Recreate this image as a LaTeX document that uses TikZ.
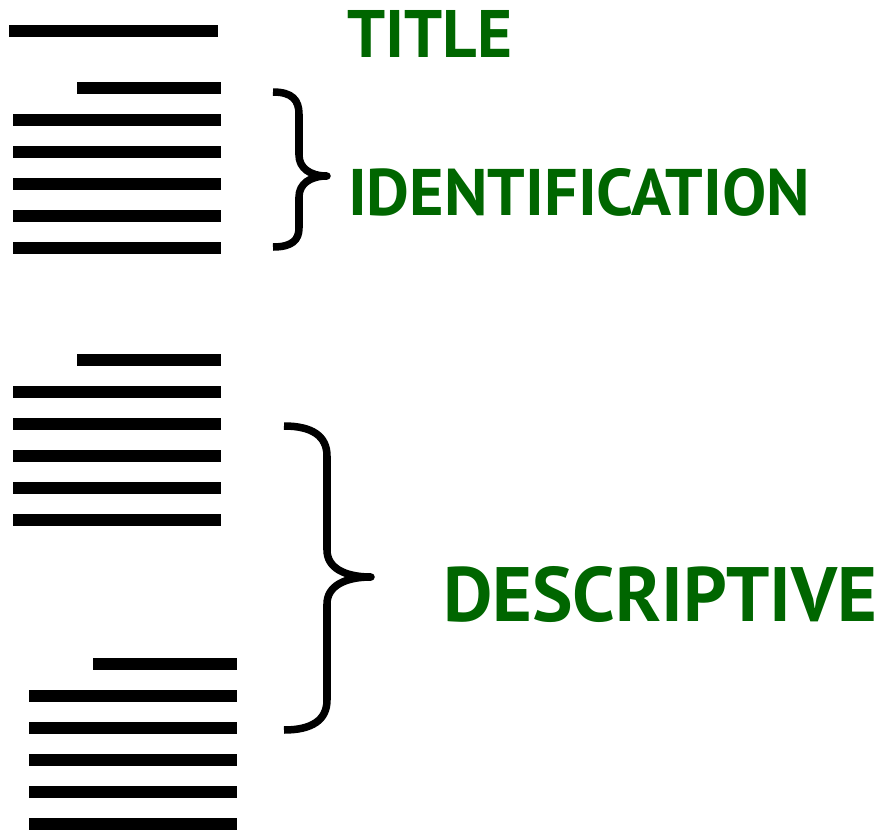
\documentclass[tikz,border=0pt]{standalone}
\usepackage{fontspec}
\setmainfont{PT Sans}
\usepackage{graphicx}
\definecolor{labelgreen}{RGB}{0,102,0}
\tikzset{
  bar/.style={fill=black},
  bracestroke/.style={draw=black, line width=0.075cm, line cap=butt, line join=round},
  label/.style={anchor=north west, inner sep=0pt, outer sep=0pt, text=labelgreen, font=\bfseries}
}
\begin{document}
\begin{tikzpicture}[x=0.01cm,y=-0.01cm]
\useasboundingbox (0,0) rectangle (887,833);
% title bar
\fill[bar] (9.5,24.5) rectangle (217.5,36.5);
% group 1
\fill[bar] (77,82) rectangle (220.5,94);
\foreach \y in {120,152,184,216,248}
  \fill[bar] (12.7,\y-6) rectangle (220.5,\y+6);
% group 2
\fill[bar] (77,354.3) rectangle (220.5,366.3);
\foreach \y in {392,424,456,488,520}
  \fill[bar] (12.7,\y-6) rectangle (220.5,\y+6);
% group 3
\fill[bar] (92.7,658.3) rectangle (236.7,670.3);
\foreach \y in {696,728,760,792,824}
  \fill[bar] (28.7,\y-6) rectangle (236.7,\y+6);
% braces
\draw[bracestroke] (273,92) .. controls (292,92) and (299,100) .. (299,114) -- (299,155)
  .. controls (299,168) and (310,176) .. (327,176)
  .. controls (310,176) and (299,184) .. (299,197) -- (299,228)
  .. controls (299,240) and (292,247) .. (273,247);
\draw[bracestroke] (284,426) .. controls (312,426) and (327,436) .. (327,456) -- (327,550)
  .. controls (327,568) and (345,577) .. (371,577)
  .. controls (345,577) and (327,586) .. (327,604) -- (327,700)
  .. controls (327,720) and (312,730) .. (284,730);
% labels
\node[label] (title) at (347,10) {\resizebox{1.65cm}{0.47cm}{TITLE}};
\node[label] (ident) at (348,168) {\resizebox{4.62cm}{0.47cm}{IDENTIFICATION}};
\node[label] (descr) at (443,566) {\resizebox{4.34cm}{0.55cm}{DESCRIPTIVE}};
\end{tikzpicture}
\end{document}
